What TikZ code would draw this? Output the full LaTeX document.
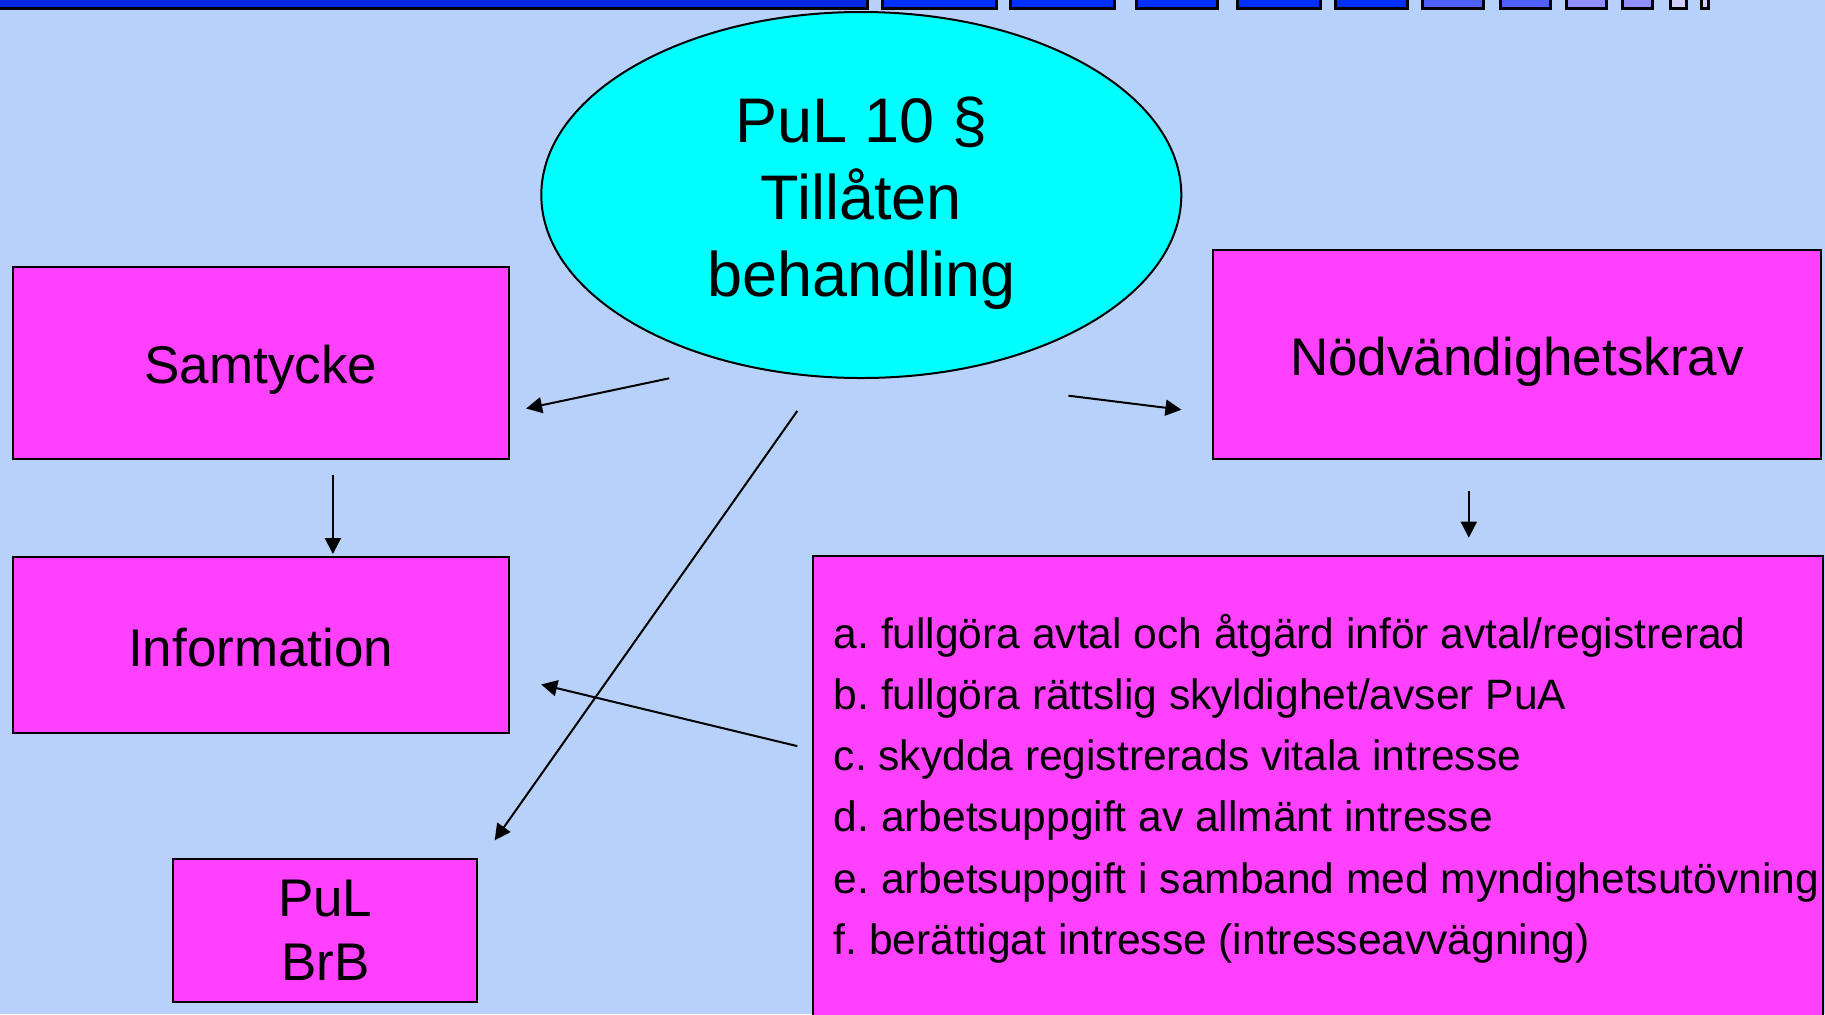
\documentclass[tikz,border=0pt]{standalone}
\usepackage{fontspec}
\setmainfont{Liberation Sans}
\usepackage{tikz}
\usetikzlibrary{positioning, arrows.meta, shapes.geometric}
\usepackage{xcolor}
\definecolor{bgblue}{HTML}{B7D1FB}
\definecolor{boxpink}{HTML}{FF40FF}
\definecolor{ovalcyan}{HTML}{00FFFF}
\definecolor{barblue}{HTML}{0028E0}
\definecolor{tabblue}{HTML}{0030FF}
\definecolor{tabmid}{HTML}{5060FF}
\definecolor{tablight}{HTML}{9090FF}
\definecolor{tabpale}{HTML}{D0D0FF}
\frenchspacing

\begin{document}
\begin{tikzpicture}[
  x=0.5pt, y=-0.5pt,
  box/.style={draw, fill=boxpink, line width=1pt, inner sep=0pt,
              font=\fontsize{26.5}{32}\selectfont, align=center},
  oneline/.style={text height=21pt, text depth=0pt},
  oval/.style={draw, ellipse, fill=ovalcyan, line width=1pt, inner sep=0pt,
               minimum width=320pt, minimum height=183pt},
  ovaltext/.style={font=\fontsize{31.5}{38.5}\selectfont, align=center,
                   inner sep=0pt},
  listtext/.style={font=\fontsize{21.25}{30.6}\selectfont, align=left,
                   inner sep=0pt},
  arrow/.style={-{Triangle[length=8pt, width=8pt]}, line width=1pt},
  tab/.style={draw=black, line width=1.5pt},
]
  % Background
  \fill[bgblue] (0,0) rectangle (1825,1014);
  \useasboundingbox (0,0) rectangle (1825,1014);
  % Top bar and tabs
  \fill[barblue, tab] (-10,-10) rectangle (867,8);
  \foreach \xa/\xb/\tabcol in {882/996/tabblue, 1010/1114/tabblue,
      1136/1217/tabblue, 1237/1320/tabblue, 1335/1407/tabblue,
      1422/1483/tabmid, 1500/1550/tabmid, 1566/1606/tablight,
      1622/1652/tablight, 1670/1686/tabpale, 1701/1708/tabpale}
    \filldraw[fill=\tabcol, tab] (\xa,-10) rectangle (\xb,8);
  % Main oval
  \node[oval] (tillaten) at (861.3,195) {};
  \node[ovaltext] (tillaten_text) at ([yshift=-4.3pt]tillaten.center)
    {PuL 10 §\\Tillåten\\behandling};
  % Samtycke
  \node[box, oneline, minimum width=247.9pt, minimum height=96pt]
    (samtycke) at (260.7,362.6) {Samtycke};
  % Information
  \node[box, oneline, minimum width=247.9pt, minimum height=87.9pt,
        below=48.3pt of samtycke] (information) {Information};
  % PuL BrB
  \node[box, minimum width=151.9pt, minimum height=71.5pt]
    (pulbrb) at (325.3,930.6) {PuL\\BrB};
  % Nödvändighetskrav
  \node[box, oneline, minimum width=304.4pt, minimum height=104.2pt]
    (nodvandighet) at (1517,354.4) {Nödvändighetskrav};
  % List of requirements
  \node[box, minimum width=504.6pt, minimum height=232.4pt,
        anchor=north west] (kravbox) at (812.4,555.2) {};
  \node[listtext, right=10.5pt of kravbox.west] (kravlist) {%
    a. fullgöra avtal och åtgärd inför avtal/registrerad\\
    b. fullgöra rättslig skyldighet/avser PuA\\
    c. skydda registrerads vitala intresse\\
    d. arbetsuppgift av allmänt intresse\\
    e. arbetsuppgift i samband med myndighetsutövning\\
    f. berättigat intresse (intresseavvägning)};
  % Arrow ends
  \coordinate (oval_left)  at (669.2,378.3);
  \coordinate (samt_in)    at (526.1,408.5);
  \coordinate (oval_right) at (1068.5,395.7);
  \coordinate (nodv_in)    at (1181.4,409.7);
  \coordinate (oval_down)  at (797.3,410.9);
  \coordinate (pul_in)     at (494.7,840.3);
  \coordinate (samt_out)   at (332.9,474.9);
  \coordinate (info_top)   at (332.9,554);
  \coordinate (nodv_out)   at (1468.8,491.2);
  \coordinate (list_top)   at (1468.8,537.7);
  \coordinate (list_out)   at (797.3,746.1);
  \coordinate (info_in)    at (541.2,684.4);
  % Arrows
  \draw[arrow] (oval_left) -- (samt_in);
  \draw[arrow] (oval_right) -- (nodv_in);
  \draw[arrow] (oval_down) -- (pul_in);
  \draw[arrow] (samt_out) -- (info_top);
  \draw[arrow] (nodv_out) -- (list_top);
  \draw[arrow] (list_out) -- (info_in);
\end{tikzpicture}
\end{document}
